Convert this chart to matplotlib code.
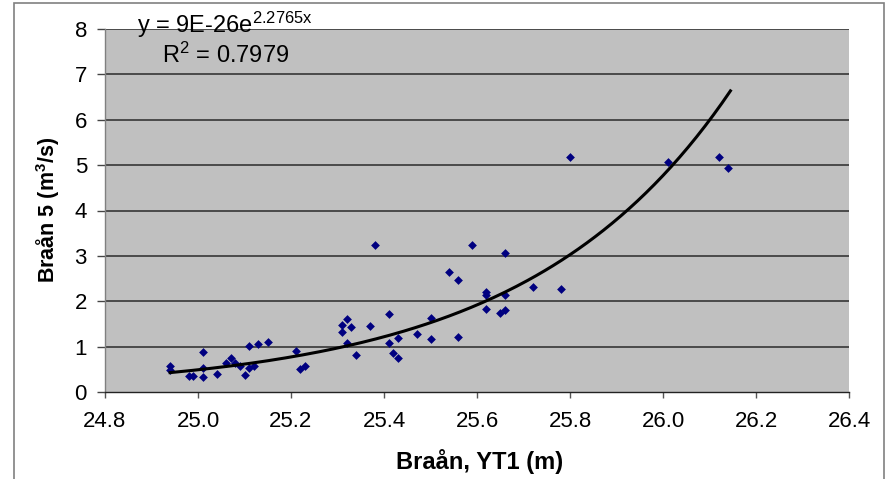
import numpy as np
import matplotlib
matplotlib.use("Agg")
import matplotlib.pyplot as plt
from matplotlib.patches import Rectangle

plt.rcParams['font.family'] = ['Liberation Sans', 'DejaVu Sans']
plt.rcParams['mathtext.fontset'] = 'custom'
plt.rcParams['mathtext.rm'] = 'Liberation Sans'
plt.rcParams['mathtext.it'] = 'Liberation Sans'
plt.rcParams['mathtext.bf'] = 'Liberation Sans:bold'

# data
x_yt1 = [24.94, 24.94, 24.98, 24.99, 25.01, 25.01, 25.01, 25.04, 25.06, 25.07,
         25.08, 25.09, 25.10, 25.11, 25.11, 25.12, 25.13, 25.15, 25.21, 25.22,
         25.23, 25.31, 25.31, 25.32, 25.33, 25.32, 25.34, 25.38, 25.37, 25.41,
         25.41, 25.43, 25.42, 25.43, 25.47, 25.50, 25.50, 25.54, 25.56, 25.56,
         25.59, 25.62, 25.62, 25.62, 25.65, 25.66, 25.66, 25.66, 25.72, 25.78,
         25.80, 26.01, 26.12, 26.14]
y_braan5 = [0.57, 0.48, 0.35, 0.35, 0.88, 0.52, 0.34, 0.39, 0.65, 0.74,
            0.65, 0.57, 0.37, 1.01, 0.52, 0.58, 1.05, 1.10, 0.90, 0.51,
            0.58, 1.33, 1.48, 1.61, 1.43, 1.07, 0.82, 3.23, 1.45, 1.71,
            1.08, 1.19, 0.87, 0.76, 1.28, 1.62, 1.17, 2.64, 2.47, 1.21,
            3.23, 2.21, 2.14, 1.82, 1.75, 2.14, 1.80, 3.07, 2.32, 2.27,
            5.19, 5.06, 5.17, 4.94]

# exponential trend line y = a*exp(b*x)
trend_a = 9.4e-26
trend_b = 2.2765
trend_range = [24.94, 26.145]

x_ticks = [24.8, 25.0, 25.2, 25.4, 25.6, 25.8, 26.0, 26.2, 26.4]
y_ticks = [0, 1, 2, 3, 4, 5, 6, 7, 8]

W, H = 890, 479
fig = plt.figure(figsize=(W / 100, H / 100), dpi=100)
fig.patch.set_facecolor('white')
fig.add_artist(Rectangle((14/W, -0.02), (884-14)/W, 1.02 - 3/H,
                         transform=fig.transFigure, fill=False,
                         edgecolor='#808080', linewidth=1.2))

ax = fig.add_axes([105/W, 1 - 392/H, (849-105)/W, (392-29)/H])
ax.set_facecolor('#C0C0C0')
ax.set_xlim(24.8, 26.4)
ax.set_ylim(0, 8)
ax.set_xticks(x_ticks)
ax.set_xticklabels([f"{v:.1f}" for v in x_ticks])
ax.set_yticks(y_ticks)
ax.set_yticklabels([str(v) for v in y_ticks])
ax.tick_params(axis='both', direction='out', width=1,
               labelsize=16, labelcolor='black')
ax.tick_params(axis='x', length=4.5, pad=9, color='#555555')
ax.tick_params(axis='y', length=6, pad=7, color='#444444')

for y in y_ticks[1:]:
    ax.axhline(y, color='#2a2a2a', linewidth=1.1, zorder=1)

for s in ['top', 'right']:
    ax.spines[s].set_visible(False)
ax.spines['left'].set_color('#808080')
ax.spines['bottom'].set_color('#222222')
ax.spines['left'].set_linewidth(1.0)
ax.spines['bottom'].set_linewidth(1.0)

ax.scatter(x_yt1, y_braan5, marker='D', s=20, color='#000080', zorder=3,
           linewidths=0)

xt = np.linspace(trend_range[0], trend_range[1], 200)
ax.plot(xt, trend_a * np.exp(trend_b * xt), color='black', linewidth=2.2,
        zorder=4)

fig.text(480/W, 1 - 462/H, 'Braån, YT1 (m)', fontsize=17, fontweight='bold',
         ha='center', va='center')
fig.text(48/W, 1 - 210/H, r'Braån 5 (m$^{\mathbf{3}}$/s)', fontsize=15.5,
         fontweight='bold', rotation=90, ha='center', va='center')

fig.text(137/W, 1 - 25/H, r'y = 9E-26e$^{\mathregular{2.2765x}}$',
         fontsize=17, ha='left', va='center')
fig.text(162/W, 1 - 55/H, r'R$^{\mathregular{2}}$ = 0.7979',
         fontsize=17, ha='left', va='center')

fig.savefig('out.png', dpi=100)
